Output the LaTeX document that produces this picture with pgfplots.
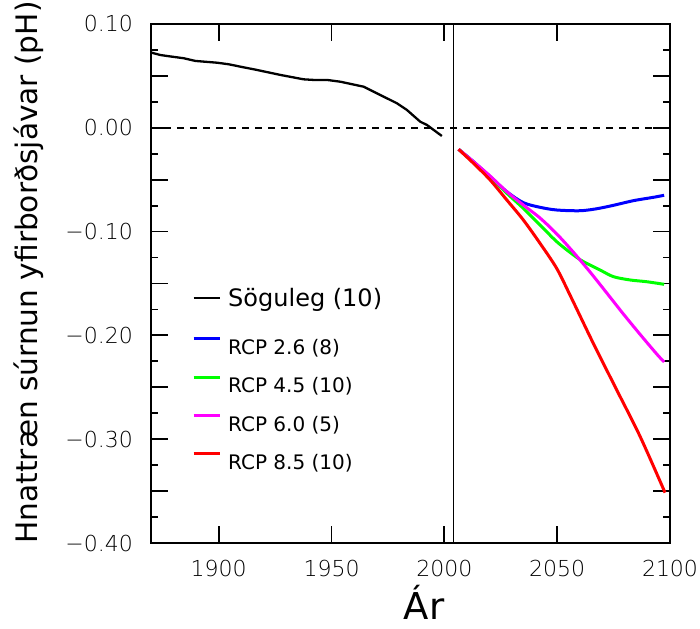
\documentclass[border=0pt]{standalone}
\usepackage{fontspec}
\setmainfont{DejaVu Sans}
\newfontfamily\thinfont{DejaVu Sans ExtraLight}
\usepackage{pgfplots}
\pgfplotsset{compat=1.18}
\definecolor{cBlue}{RGB}{0,0,255}
\definecolor{cGreen}{RGB}{0,255,0}
\definecolor{cMag}{RGB}{255,0,255}
\definecolor{cRed}{RGB}{255,0,0}
\pgfplotsset{
  legHist/.style={legend image code/.code={\draw[##1] (0pt,8pt) -- (26pt,8pt);}},
  legRCP/.style={legend image code/.code={\draw[##1] (0pt,15.6pt) -- (26pt,15.6pt);}},
}
\begin{document}
\begin{tikzpicture}
\begin{axis}[
  scale only axis, width=519pt, height=519pt,
  xmin=1870, xmax=2100, ymin=-0.4, ymax=0.1,
  axis line style={line width=2pt},
  tick style={line width=1.8pt, black},
  tick align=inside,
  major tick length=17pt, minor tick length=7pt,
  xtick={1900,1950,2000,2050,2100},
  xticklabels={1900,1950,2000,2050,2100},
  ytick={-0.4,-0.35,-0.3,-0.25,-0.2,-0.15,-0.1,-0.05,0,0.05,0.1},
  yticklabels={−0.40,,−0.30,,−0.20,,−0.10,,0.00,,0.10},
  minor ytick={-0.375,-0.325,-0.275,-0.225,-0.175,-0.125,-0.075,-0.025,0.025,0.075},
  ticklabel style={font=\thinfont\fontsize{22}{26}\selectfont},
  xticklabel style={inner sep=0pt, yshift=-17pt},
  yticklabel style={inner sep=0pt, xshift=-18pt},
  xlabel={Ár},
  xlabel style={font=\fontsize{37}{43}\selectfont, inner sep=0pt, at={([xshift=13.5pt,yshift=-76pt]axis description cs:0.5,0)}, anchor=base},
  ylabel={Hnattræn súrnun yfirborðsjávar (pH)},
  ylabel style={font=\fontsize{29.6}{34}\selectfont, inner sep=0pt, at={([xshift=-113pt,yshift=11pt]axis description cs:0,0.5)}, anchor=base, rotate=0},
  legend cell align=left,
  legend style={at={(axis description cs:0.079,0.4913)}, anchor=north west, draw=none, fill=none, inner sep=0pt,
    cells={anchor=base west}, row sep=15.3pt, column sep=7pt, nodes={inner sep=0pt}},
]
\addplot[black, line width=1pt, forget plot] coordinates {(2004.1,-0.4) (2004.1,0.1)};
\addplot[black, line width=2pt, dash pattern=on 7pt off 6pt, forget plot] coordinates {(1870,0) (2100,0)};
\addplot[black, line width=2.3pt, legHist] coordinates {
(1870.2,0.0724) (1874.2,0.0701) (1879.4,0.0685) (1884.5,0.0670) (1889.7,0.0644) (1899.3,0.0627)
(1904.4,0.0612) (1909.6,0.0589) (1917.0,0.0557) (1927.4,0.0509) (1937.6,0.0467) (1942.1,0.0461)
(1948.0,0.0461) (1953.9,0.0444) (1964.2,0.0396) (1971.6,0.0316) (1979.0,0.0236) (1983.4,0.0172)
(1989.3,0.0059) (1992.3,0.0027) (1998.9,-0.0079)};
\addlegendentry[text height=18pt, text depth=15pt]{\fontsize{24}{28}\selectfont Söguleg (10)}
\addplot[cBlue, line width=3pt, smooth, tension=0.5, legRCP] coordinates {
(2006.3,-0.0207) (2012.9,-0.0326) (2020.3,-0.0471) (2027.7,-0.0616) (2035.0,-0.0721) (2042.4,-0.0766)
(2049.8,-0.0792) (2060.1,-0.0799) (2067.5,-0.0780) (2074.9,-0.0747) (2083.8,-0.0702) (2092.6,-0.0670)
(2097.4,-0.0650)};
\addlegendentry[text height=18pt, text depth=5pt]{\fontsize{20}{24}\selectfont RCP 2.6 (8)}
\addplot[cGreen, line width=3pt, smooth, tension=0.5, legRCP] coordinates {
(2006.3,-0.0207) (2012.9,-0.0330) (2020.3,-0.0475) (2027.7,-0.0631) (2035.0,-0.0776) (2042.4,-0.0936)
(2049.8,-0.1097) (2057.2,-0.1225) (2061.6,-0.1289) (2069.0,-0.1370) (2074.9,-0.1434) (2082.3,-0.1466)
(2089.7,-0.1483) (2097.4,-0.1508)};
\addlegendentry[text height=18pt, text depth=5pt]{\fontsize{20}{24}\selectfont RCP 4.5 (10)}
\addplot[cMag, line width=3pt, smooth, tension=0.5, legRCP] coordinates {
(2006.3,-0.0207) (2012.9,-0.0326) (2020.3,-0.0465) (2027.7,-0.0616) (2035.0,-0.0744) (2042.4,-0.0869)
(2049.8,-0.1022) (2057.2,-0.1199) (2064.6,-0.1390) (2072.0,-0.1592) (2079.3,-0.1793) (2086.7,-0.1989)
(2094.1,-0.2179) (2097.4,-0.2256)};
\addlegendentry[text height=18pt, text depth=5pt]{\fontsize{20}{24}\selectfont RCP 6.0 (5)}
\addplot[cRed, line width=3pt, smooth, tension=0.5, legRCP] coordinates {
(2006.3,-0.0207) (2012.9,-0.0342) (2020.3,-0.0503) (2027.7,-0.0696) (2035.0,-0.0888) (2042.4,-0.1113)
(2049.8,-0.1355) (2056.1,-0.1630) (2066.0,-0.2076) (2076.4,-0.2526) (2086.8,-0.2976) (2097.8,-0.3515)};
\addlegendentry[text height=18pt, text depth=5pt]{\fontsize{20}{24}\selectfont RCP 8.5 (10)}
\coordinate (ll) at (rel axis cs:0,0);
\coordinate (ur) at (rel axis cs:1,1);
\end{axis}
\pgfresetboundingbox
\path ([shift={(-151pt,-85pt)}]ll) rectangle ([shift={(30pt,24pt)}]ur);
\end{tikzpicture}
\end{document}
